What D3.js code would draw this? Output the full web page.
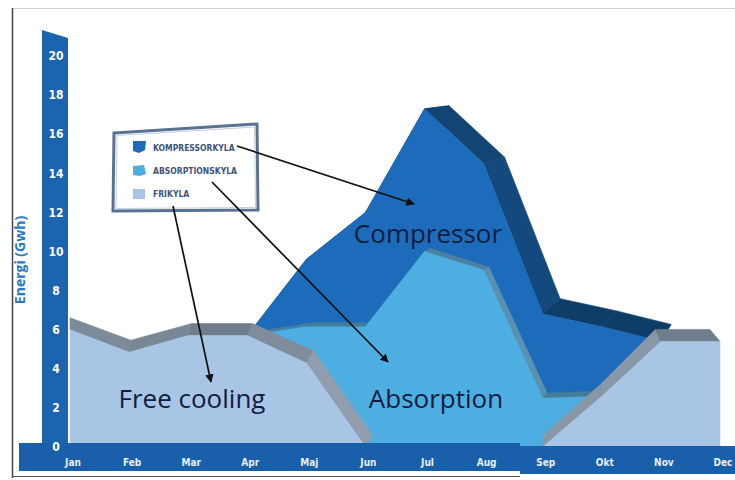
<!DOCTYPE html>
<html>
<head>
<meta charset="utf-8">
<script src="https://cdn.jsdelivr.net/npm/d3@7"></script>
<style>
  html, body { margin: 0; padding: 0; background: #fff; }
  svg { display: block; }
</style>
</head>
<body>
<svg id="chart" width="735" height="480"></svg>
<script>
// Monthly cooling energy (GWh) per production type
const months = ["Jan", "Feb", "Mar", "Apr", "Maj", "Jun", "Jul", "Aug", "Sep", "Okt", "Nov", "Dec"];
const frikyla = [6.0, 4.85, 5.7, 5.7, 4.3, 0, 0, 0, 0, 2.6, 5.4, 5.4];
const absorptionskyla = [0, 0, 0, 0, 1.85, 6.15, 10.0, 9.05, 2.5, 0, 0, 0];
const kompressorkyla = [0, 0, 0, 0, 3.45, 5.85, 7.3, 5.45, 4.3, 3.55, 0, 0];
const yTicks = [0, 2, 4, 6, 8, 10, 12, 14, 16, 18, 20];
const seriesKeys = ["frikyla", "absorptionskyla", "kompressorkyla"];
const legendKeys = ["kompressorkyla", "absorptionskyla", "frikyla"];
const legendLabels = ["KOMPRESSORKYLA", "ABSORPTIONSKYLA", "FRIKYLA"];
const calloutLabels = ["Compressor", "Absorption", "Free cooling"];
const yTitle = "Energi (Gwh)";

const rows = months.map((m, i) => ({
  month: m,
  frikyla: frikyla[i],
  absorptionskyla: absorptionskyla[i],
  kompressorkyla: kompressorkyla[i]
}));
const stacked = d3.stack().keys(seriesKeys)(rows);

const svg = d3.select("#chart");
const x = d3.scalePoint().domain(months).range([70, 720]);
const y = d3.scaleLinear().domain([0, 20]).range([447, 56]);

// colours: front face, top face (flat), top face (steep)
const style = {
  frikyla:         { face: "#a9c5e6", flat: "#6f7d8c", steep: "#98a4b4" },
  absorptionskyla: { face: "#4eaee1", flat: "#457b9a", steep: "#5b91b0" },
  kompressorkyla:  { face: "#1c6cbb", flat: "#0d3a63", steep: "#14497d" }
};

// depth of the top faces: where the extruded edge sits for a front point
const friDx = d3.scaleLinear().domain([70, 330, 600, 720]).range([0, 8, -1, -10]).clamp(true);
const depth = {
  frikyla: (px, py) => [friDx(px), -12],
  absorptionskyla: (px, py) => [(833 - px) * 0.015, (58 - py) * 0.015],
  kompressorkyla: (px, py) => [(833 - px) * 0.06, (58 - py) * 0.06]
};

// a layer is drawn where it, or a neighbouring month, carries energy
function isDefined(layer, i) {
  const v = j => (j >= 0 && j < layer.length) ? (layer[j][1] - layer[j][0]) : 0;
  return v(i) > 0 || v(i - 1) > 0 || v(i + 1) > 0;
}

// frame lines
svg.append("line").attr("x1", 12).attr("x2", 735).attr("y1", 8.5).attr("y2", 8.5)
  .attr("stroke", "#d2d2d2").attr("stroke-width", 1);
svg.append("line").attr("x1", 12.5).attr("x2", 12.5).attr("y1", 8).attr("y2", 478)
  .attr("stroke", "#444").attr("stroke-width", 1.5);
svg.append("line").attr("x1", 12).attr("x2", 520).attr("y1", 476.5).attr("y2", 476.5)
  .attr("stroke", "#555").attr("stroke-width", 1.2);

const plot = svg.append("g");

function drawBands(layer) {
  const key = layer.key;
  const st = style[key];
  const g = plot.append("g").attr("class", "band-" + key);
  for (let i = 0; i < layer.length - 1; i++) {
    if (!isDefined(layer, i) || !isDefined(layer, i + 1)) continue;
    const f0 = [x(layer[i].data.month), y(layer[i][1])];
    const f1 = [x(layer[i + 1].data.month), y(layer[i + 1][1])];
    const o0 = depth[key](f0[0], f0[1]);
    const o1 = depth[key](f1[0], f1[1]);
    const b0 = [f0[0] + o0[0], f0[1] + o0[1]];
    const b1 = [f1[0] + o1[0], f1[1] + o1[1]];
    const ang = Math.abs(Math.atan2(f1[1] - f0[1], f1[0] - f0[0])) / (Math.PI / 2);
    const col = d3.interpolateRgb(st.flat, st.steep)(Math.min(1, ang * 1.4));
    g.append("path")
      .attr("d", "M" + [f0, f1, b1, b0].map(p => p.join(",")).join("L") + "Z")
      .attr("fill", col).attr("stroke", col).attr("stroke-width", 0.6)
      .attr("stroke-linejoin", "round");
  }
}

function drawFace(layer) {
  const area = d3.area()
    .defined((d, i) => isDefined(layer, i))
    .x(d => x(d.data.month))
    .y0(d => y(d[0]))
    .y1(d => y(d[1]));
  plot.append("path").attr("d", area(layer))
    .attr("fill", style[layer.key].face)
    .attr("stroke", style[layer.key].face).attr("stroke-width", 0.5);
}

// upper layers first so lower layers' top faces overlap them
[...stacked].reverse().forEach(layer => { drawBands(layer); drawFace(layer); });

// axis bars
svg.append("path").attr("d", "M42,30L68,38L68,450L42,450Z").attr("fill", "#1c64ae");
svg.append("rect").attr("x", 19).attr("y", 443).attr("width", 501).attr("height", 28).attr("fill", "#1a5fa9");
svg.append("rect").attr("x", 520).attr("y", 446).attr("width", 215).attr("height", 28).attr("fill", "#1a5fa9");

const tickFont = "'Liberation Sans Narrow', 'DejaVu Sans Condensed', sans-serif";
svg.append("g").selectAll("text").data(yTicks).join("text")
  .attr("x", 56).attr("y", d => y(d)).attr("dy", "0.35em")
  .attr("text-anchor", "middle")
  .attr("font-family", tickFont).attr("font-weight", "bold").attr("font-size", 12)
  .attr("fill", "#fff").text(d => d);

svg.append("g").selectAll("text").data(months).join("text")
  .attr("x", d => x(d) + 3).attr("y", 462).attr("dy", "0.35em")
  .attr("text-anchor", "middle")
  .attr("font-family", tickFont).attr("font-weight", "bold").attr("font-size", 10)
  .attr("fill", "#e8f0fa").text(d => d);

svg.append("text")
  .attr("transform", "translate(25,260) rotate(-90)")
  .attr("text-anchor", "middle")
  .attr("font-family", "'Open Sans', sans-serif").attr("font-weight", "bold").attr("font-size", 14)
  .attr("fill", "#2b78c2").text(yTitle);

// legend box
const legend = svg.append("g");
legend.append("path").attr("d", "M114,133L257,124L258,210L113,211Z")
  .attr("fill", "#fff").attr("stroke", "#5a7291").attr("stroke-width", 3);
legend.append("path").attr("d", "M117,135.5L254.5,127L255.5,207.5L116,208.5Z")
  .attr("fill", "none").attr("stroke", "#c3cedb").attr("stroke-width", 1);
const swatchPath = [
  "M133,141L146,141L145,150L139,153L133,151Z",
  "M133,166L144,165L146,174L140,176L133,175Z",
  "M133,189L145,189L145,199L133,199Z"
];
legendKeys.forEach((k, i) => {
  legend.append("path").attr("d", swatchPath[i]).attr("fill", style[k].face);
  legend.append("text")
    .attr("x", 153).attr("y", 148 + i * 23).attr("dy", "0.35em")
    .attr("font-family", tickFont).attr("font-weight", "bold").attr("font-size", 8.5)
    .attr("fill", "#3c5479").text(legendLabels[i]);
});

// call-out arrows
svg.append("defs").append("marker")
  .attr("id", "head").attr("viewBox", "0 0 10 10").attr("refX", 9).attr("refY", 5)
  .attr("markerWidth", 5).attr("markerHeight", 5).attr("orient", "auto")
  .append("path").attr("d", "M0,0L10,5L0,10Z").attr("fill", "#111");
const arrows = [
  [[237, 146], [414, 204]],
  [[212, 182], [388, 362]],
  [[173, 206], [211, 382]]
];
svg.append("g").selectAll("line").data(arrows).join("line")
  .attr("x1", d => d[0][0]).attr("y1", d => d[0][1])
  .attr("x2", d => d[1][0]).attr("y2", d => d[1][1])
  .attr("stroke", "#111").attr("stroke-width", 1.7)
  .attr("marker-end", "url(#head)");

// area call-outs
const calloutPos = [[428, 243], [436, 408], [192, 408]];
svg.append("g").selectAll("text").data(calloutLabels).join("text")
  .attr("x", (d, i) => calloutPos[i][0]).attr("y", (d, i) => calloutPos[i][1])
  .attr("text-anchor", "middle")
  .attr("font-family", "'Open Sans', sans-serif").attr("font-size", 26)
  .attr("fill", "#111c3e").text(d => d);
</script>
</body>
</html>
